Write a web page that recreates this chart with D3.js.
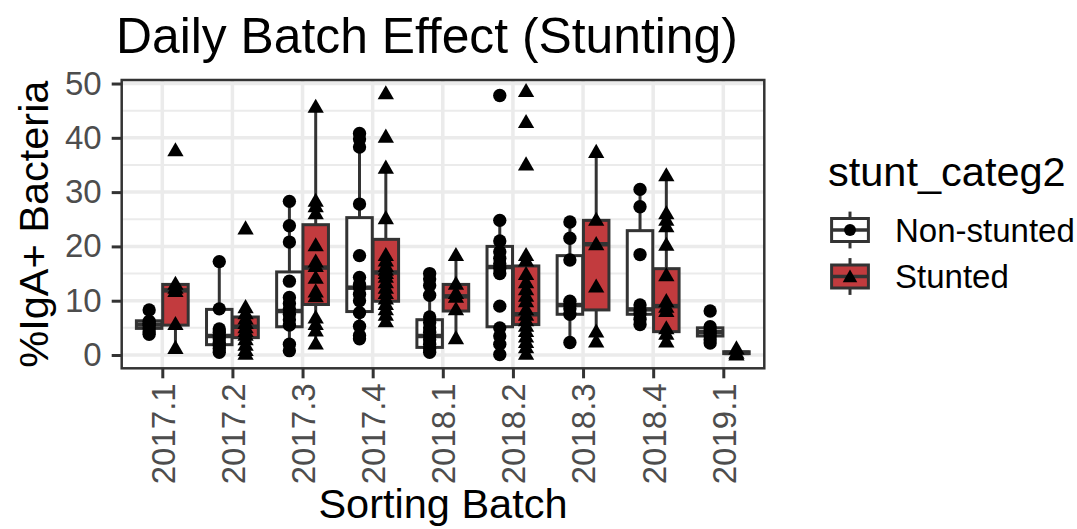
<!DOCTYPE html>
<html>
<head>
<meta charset="utf-8">
<script src="https://cdn.jsdelivr.net/npm/d3@7"></script>
<style>
  html, body { margin: 0; padding: 0; background: #fff; }
  svg { display: block; font-family: "Liberation Sans", Arial, Helvetica, sans-serif; }
</style>
</head>
<body>
<svg id="chart" width="1077" height="529"></svg>
<script>
// Sorting batches on the x axis
const batches = ["2017.1", "2017.2", "2017.3", "2017.4", "2018.1", "2018.2", "2018.3", "2018.4", "2019.1"];
const groups = ["Non-stunted", "Stunted"];
const yTicks = [0, 10, 20, 30, 40, 50];

// Box summaries per batch: lower whisker, Q1, median, Q3, upper whisker
const nsLow  = [3.8, 0.5, 0.8, 3.0, 0.5, 0.1, 2.3, 5.6, 2.2];
const nsQ1   = [4.9, 1.9, 5.2, 8.0, 1.4, 5.2, 7.5, 7.5, 3.5];
const nsMed  = [5.6, 3.5, 8.1, 12.4, 3.5, 16.2, 9.2, 8.4, 4.2];
const nsQ3   = [6.3, 8.4, 15.3, 25.3, 6.5, 20.0, 18.3, 22.9, 5.0];
const nsHigh = [8.3, 17.2, 28.3, 40.8, 15.0, 24.8, 24.5, 30.5, 5.2];

const stLow  = [1.4, 0.3, 2.2, 6.3, 3.2, 0.3, 2.6, 2.6, 0.2];
const stQ1   = [5.5, 3.2, 9.3, 9.9, 8.1, 5.6, 8.3, 4.3, 0.25];
const stMed  = [11.9, 5.2, 16.1, 15.2, 10.8, 7.5, 20.4, 9.0, 0.4];
const stQ3   = [13.0, 7.0, 24.0, 21.3, 13.0, 16.4, 24.8, 15.9, 0.6];
const stHigh = [13.2, 8.9, 45.8, 34.6, 18.5, 18.5, 37.5, 33.2, 1.3];

// Individual %IgA+ values per batch
const nsPoints = [
  [8.3, 6.2, 5.8, 5.5, 4.9, 4.3, 3.8],
  [17.2, 8.5, 4.8, 4.2, 3.6, 3.0, 2.3, 1.8, 1.2, 0.5],
  [28.3, 23.8, 20.8, 13.6, 10.6, 9.5, 8.5, 7.5, 6.5, 5.5, 2.0, 0.8],
  [40.8, 39.8, 38.3, 27.8, 18.3, 14.3, 13.0, 12.4, 11.2, 10.0, 7.8, 5.3, 3.6, 3.0],
  [15.0, 14.0, 12.8, 11.0, 7.0, 6.0, 5.0, 4.2, 3.5, 2.8, 2.0, 1.2, 0.5],
  [47.8, 24.8, 21.0, 19.0, 17.8, 16.8, 16.0, 15.0, 9.0, 5.0, 3.5, 2.0, 0.1],
  [24.5, 21.5, 17.5, 9.9, 9.2, 8.5, 7.5, 2.3],
  [30.5, 27.3, 18.5, 9.2, 8.3, 7.6, 6.6, 5.6],
  [8.1, 5.2, 4.6, 4.0, 3.5, 2.8, 2.2]
];
const stPoints = [
  [37.8, 13.2, 12.5, 11.9, 5.8, 1.4],
  [23.4, 8.9, 7.8, 6.8, 6.0, 5.2, 4.5, 3.8, 3.0, 2.0, 1.0, 0.3],
  [45.8, 28.5, 27.5, 26.2, 20.3, 17.3, 16.5, 14.3, 11.8, 10.9, 7.0, 5.8, 4.6, 2.2],
  [48.3, 40.3, 34.6, 25.3, 18.5, 17.5, 16.5, 15.8, 15.2, 14.5, 13.5, 12.5, 11.5, 10.5, 9.5, 8.5, 7.5, 6.3],
  [18.5, 13.2, 11.5, 10.8, 8.5, 3.2],
  [48.7, 43.0, 35.2, 18.5, 17.5, 15.0, 13.5, 12.2, 11.0, 10.0, 8.5, 7.5, 6.5, 5.5, 4.5, 3.5, 2.5, 1.5, 0.3],
  [37.5, 25.0, 20.5, 12.7, 4.4, 2.6],
  [33.2, 26.2, 25.0, 23.8, 20.4, 14.8, 10.0, 9.0, 8.2, 5.0, 4.0, 2.6],
  [1.3, 0.5, 0.2]
];

const fills = ["#ffffff", "#c23b3e"];
const shapes = [d3.symbolCircle, d3.symbolTriangle];
const symbolSizes = [140, 115];

const svg = d3.select("#chart");
svg.append("rect").attr("width", 1077).attr("height", 529).attr("fill", "#fff");

const panel = { left: 121.7, right: 764.3, top: 80, bottom: 368.3 };

const x = d3.scalePoint().domain(batches).range([162.3, 723.3]);
const step = x.step();
const y = d3.scaleLinear().domain([-2.45, 50.65]).range([panel.bottom, panel.top]);

// Panel grid
const grid = svg.append("g");
const minor = d3.range(5, 50, 10);
grid.selectAll("line.minor").data(minor).join("line")
  .attr("x1", panel.left).attr("x2", panel.right)
  .attr("y1", d => y(d)).attr("y2", d => y(d))
  .attr("stroke", "#ebebeb").attr("stroke-width", 2);
grid.selectAll("line.majorY").data(yTicks).join("line")
  .attr("x1", panel.left).attr("x2", panel.right)
  .attr("y1", d => y(d)).attr("y2", d => y(d))
  .attr("stroke", "#ebebeb").attr("stroke-width", 3.5);
grid.selectAll("line.majorX").data(batches).join("line")
  .attr("x1", d => x(d)).attr("x2", d => x(d))
  .attr("y1", panel.top).attr("y2", panel.bottom)
  .attr("stroke", "#ebebeb").attr("stroke-width", 3.5);

// Box records
const stats = [
  { low: nsLow, q1: nsQ1, med: nsMed, q3: nsQ3, high: nsHigh, pts: nsPoints },
  { low: stLow, q1: stQ1, med: stMed, q3: stQ3, high: stHigh, pts: stPoints }
];
const dodge = [-0.1875 * step, 0.1875 * step];
const halfW = 0.1875 * step * 0.97;

const boxes = [];
batches.forEach((b, i) => {
  groups.forEach((g, gi) => {
    const s = stats[gi];
    boxes.push({ batch: b, gi, low: s.low[i], q1: s.q1[i], med: s.med[i], q3: s.q3[i], high: s.high[i] });
  });
});

const boxG = svg.append("g");
const bx = boxG.selectAll("g").data(boxes).join("g")
  .attr("transform", d => `translate(${x(d.batch) + dodge[d.gi]},0)`);
bx.append("line").attr("x1", 0).attr("x2", 0)
  .attr("y1", d => y(d.q3)).attr("y2", d => y(d.high))
  .attr("stroke", "#333").attr("stroke-width", 3);
bx.append("line").attr("x1", 0).attr("x2", 0)
  .attr("y1", d => y(d.q1)).attr("y2", d => y(d.low))
  .attr("stroke", "#333").attr("stroke-width", 3);
bx.append("rect")
  .attr("x", -halfW).attr("width", 2 * halfW)
  .attr("y", d => y(d.q3)).attr("height", d => Math.max(0.5, y(d.q1) - y(d.q3)))
  .attr("fill", d => fills[d.gi]).attr("stroke", "#333").attr("stroke-width", 3);
bx.append("line").attr("x1", -halfW).attr("x2", halfW)
  .attr("y1", d => y(d.med)).attr("y2", d => y(d.med))
  .attr("stroke", "#333").attr("stroke-width", 4.5);

// Individual observations
const pts = [];
batches.forEach((b, i) => {
  groups.forEach((g, gi) => {
    stats[gi].pts[i].forEach(v => pts.push({ batch: b, gi, v }));
  });
});
svg.append("g").selectAll("path").data(pts).join("path")
  .attr("d", d => d3.symbol(shapes[d.gi], symbolSizes[d.gi])())
  .attr("transform", d => `translate(${x(d.batch) + dodge[d.gi]},${y(d.v) + (d.gi ? 1.8 : 0)})`)
  .attr("fill", "#000");

// Panel border
svg.append("rect")
  .attr("x", panel.left).attr("y", panel.top)
  .attr("width", panel.right - panel.left).attr("height", panel.bottom - panel.top)
  .attr("fill", "none").attr("stroke", "#333").attr("stroke-width", 2.5);

// Axes
const yAxis = svg.append("g").attr("transform", `translate(${panel.left},0)`)
  .call(d3.axisLeft(y).tickValues(yTicks).tickSize(10).tickPadding(10));
yAxis.select(".domain").remove();
yAxis.selectAll(".tick line").attr("stroke", "#333").attr("stroke-width", 3);
yAxis.selectAll(".tick text").attr("fill", "#4d4d4d").style("font-size", "33px")
  .style("font-family", "'Liberation Sans', Arial, sans-serif");

const xAxis = svg.append("g").attr("transform", `translate(0,${panel.bottom})`)
  .call(d3.axisBottom(x).tickSize(10));
xAxis.select(".domain").remove();
xAxis.selectAll(".tick line").attr("stroke", "#333").attr("stroke-width", 3);
xAxis.selectAll(".tick text")
  .attr("transform", "rotate(-90)")
  .attr("x", -15).attr("y", 0).attr("dy", "0.36em")
  .attr("text-anchor", "end")
  .attr("fill", "#4d4d4d").style("font-size", "33px")
  .style("font-family", "'Liberation Sans', Arial, sans-serif");

// Titles
svg.append("text").attr("x", 116).attr("y", 53)
  .style("font-size", "49.8px").attr("fill", "#000")
  .text("Daily Batch Effect (Stunting)");
svg.append("text").attr("x", (panel.left + panel.right) / 2).attr("y", 518)
  .attr("text-anchor", "middle").style("font-size", "41.5px").attr("fill", "#000")
  .text("Sorting Batch");
svg.append("text")
  .attr("transform", `translate(48,${(panel.top + panel.bottom) / 2}) rotate(-90)`)
  .attr("text-anchor", "middle").style("font-size", "41.5px").attr("fill", "#000")
  .text("%IgA+ Bacteria");

// Legend
const legend = svg.append("g");
legend.append("text").attr("x", 828).attr("y", 186)
  .style("font-size", "41.5px").attr("fill", "#000").text("stunt_categ2");
const keyCy = [230, 276.5];
const key = legend.selectAll("g.key").data(groups).join("g")
  .attr("transform", (d, i) => `translate(850,${keyCy[i]})`);
key.append("line").attr("x1", 0).attr("x2", 0).attr("y1", -18.4).attr("y2", 18.4)
  .attr("stroke", "#333").attr("stroke-width", 3);
key.append("rect").attr("x", -18.4).attr("y", -11.5).attr("width", 36.8).attr("height", 23)
  .attr("fill", (d, i) => fills[i]).attr("stroke", "#333").attr("stroke-width", 3);
key.append("line").attr("x1", -18.4).attr("x2", 18.4).attr("y1", 0).attr("y2", 0)
  .attr("stroke", "#333").attr("stroke-width", 3.5);
key.append("path")
  .attr("d", (d, i) => d3.symbol(shapes[i], symbolSizes[i] * 0.8)())
  .attr("transform", (d, i) => `translate(0,${i ? 1.5 : 0})`)
  .attr("fill", "#000");
key.append("text").attr("x", 45).attr("y", 0).attr("dy", "0.36em")
  .style("font-size", "33px").attr("fill", "#000").text(d => d);
</script>
</body>
</html>
